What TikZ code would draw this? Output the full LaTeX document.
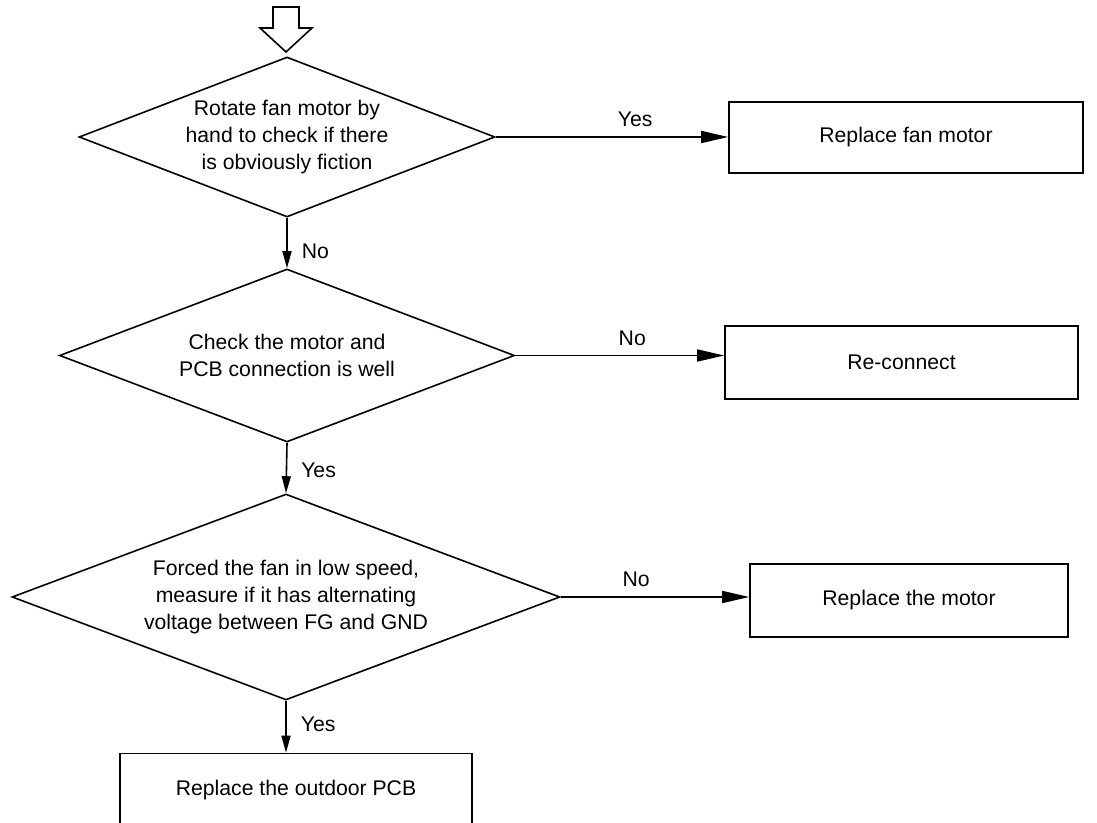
\documentclass[tikz,border=0pt]{standalone}
\usepackage{fontspec}
\setmainfont{Liberation Sans}
\usetikzlibrary{arrows.meta,positioning,shapes.geometric}

\begin{document}
\begin{tikzpicture}[
  x=0.5pt, y=-0.5pt,
  every node/.style={font=\fontsize{10.6}{13.5}\selectfont},
  check/.style={draw, line width=0.8pt, diamond, align=center, inner sep=0pt, aspect=#1},
  action/.style={draw, line width=0.8pt, rectangle, align=center, inner sep=0pt},
  flow/.style={-{Triangle[length=13.5pt, width=6pt]}, line width=0.8pt},
  down/.style={-{Triangle[length=8.5pt, width=4.5pt]}, line width=0.8pt},
  tag/.style={inner sep=0pt},
]
  \useasboundingbox (0,0) rectangle (1097,823);

  \node[check=2.6, minimum width=208pt, minimum height=80pt] (rotate) at (287,137)
    {Rotate fan motor by\\hand to check if there\\is obviously fiction};
  \node[action, minimum width=177pt, minimum height=35.5pt] (fanmotor) at (906,137.5) {Replace fan motor};

  \node[check=2.62, minimum width=227.5pt, minimum height=86.5pt] (connect) at (287,355.5)
    {Check the motor and\\PCB connection is well};
  \node[action, minimum width=176.5pt, minimum height=36.5pt] (reconnect) at (901.5,362.5) {Re-connect};

  \node[check=2.66, minimum width=274pt, minimum height=103pt] (voltage) at (286,597)
    {Forced the fan in low speed,\\measure if it has alternating\\voltage between FG and GND};
  \node[action, minimum width=159pt, minimum height=36.5pt] (motor) at (909,600.5) {Replace the motor};

  \node[action, minimum width=176pt, minimum height=36.5pt] (pcb) at (296,790) {Replace the outdoor PCB};

  % hollow entry arrow
  \coordinate (entry) at (286,52);
  \draw[line width=0.8pt] (entry) -- ++(-26,-24) -- ++(13,0) -- ++(0,-21) -- ++(26,0)
    -- ++(0,21) -- ++(13,0) -- cycle;

  \draw[flow] (rotate.east) -- (rotate.east -| fanmotor.west) node[tag, above=4.5pt, pos=0.6] {Yes};
  \draw[down] (rotate.south) -- (connect.north) node[tag, right=7pt, pos=0.67] {No};

  \draw[flow] (connect.east) -- (connect.east -| reconnect.west) node[tag, above=4.5pt, pos=0.56] {No};
  \draw[down] (connect.south) -- (voltage.north) node[tag, right=7pt, pos=0.54] {Yes};

  \draw[flow] (voltage.east) -- (voltage.east -| motor.west) node[tag, above=4.5pt, pos=0.4] {No};
  \draw[down] (voltage.south) -- (voltage.south |- pcb.north) node[tag, right=7pt, pos=0.46] {Yes};
\end{tikzpicture}
\end{document}
